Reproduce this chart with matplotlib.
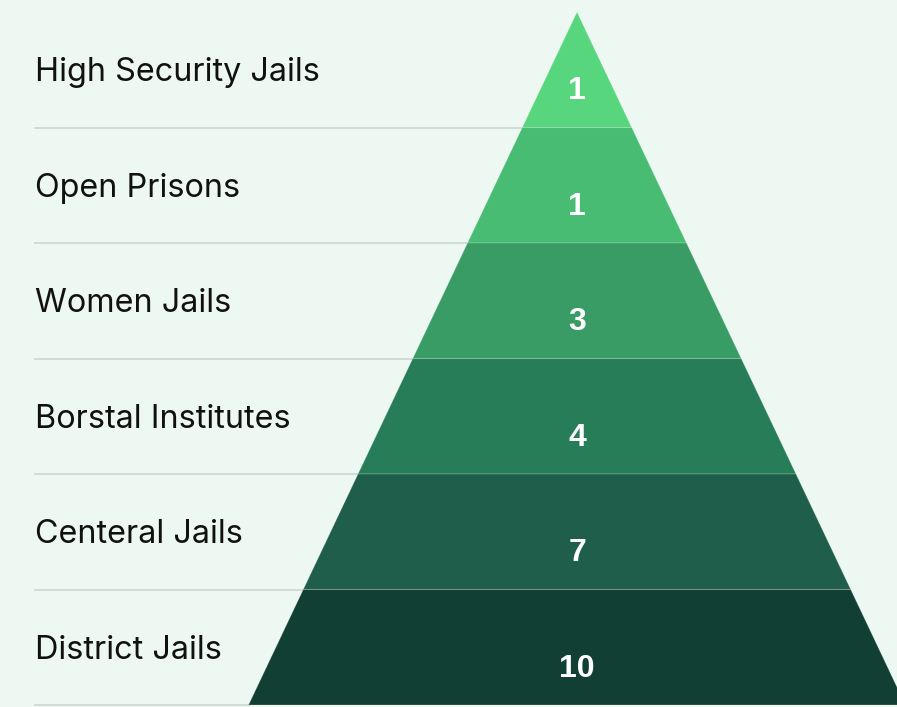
import matplotlib
matplotlib.use('Agg')
import matplotlib.pyplot as plt
from matplotlib.patches import Polygon

# data (top of the pyramid first)
categories = ['High Security Jails', 'Open Prisons', 'Women Jails',
              'Borstal Institutes', 'Centeral Jails', 'District Jails']
values = [1, 1, 3, 4, 7, 10]
colors = ['#58D67D', '#48BC73', '#3A9C65', '#287D59', '#1F5E4A', '#123F34']

bg = '#EEF8F3'
fig = plt.figure(figsize=(8.97, 7.07), dpi=100, facecolor=bg)
ax = fig.add_axes([0, 0, 1, 1])
ax.set_facecolor(bg)

n = len(categories)
# pyramid: apex at y=n, base at y=0, half-width 1 at base
def half_w(y):
    return (n - y) / n

label_x = -1.65
for k, (cat, val, col) in enumerate(zip(categories, values, colors)):
    lvl = n - 1 - k          # band from lvl to lvl+1
    y0, y1 = lvl, lvl + 1
    # separator line under each band
    ax.plot([label_x, -half_w(y0)], [y0, y0], color='#CFD9D4', lw=1.3, zorder=1)
    pts = [(-half_w(y0), y0), (half_w(y0), y0), (half_w(y1), y1), (-half_w(y1), y1)]
    ax.add_patch(Polygon(pts, closed=True, facecolor=col,
                         edgecolor=(1, 1, 1, 0.18), lw=0.8, zorder=2))
    ax.text(label_x, lvl + 0.475, cat, fontsize=23.3, family='Inter',
            color='#111111', ha='left', va='center')
    ax.text(0, lvl + 0.315, str(val), fontsize=23, family='Liberation Sans',
            fontweight='bold', color='white', ha='center', va='center', zorder=3)

ax.set_xlim(-577 / 328.5, 320 / 328.5)
ax.set_ylim(-2 / 115.5, n + 12 / 115.5)
ax.axis('off')

plt.savefig('out.png', dpi=100, facecolor=bg)
